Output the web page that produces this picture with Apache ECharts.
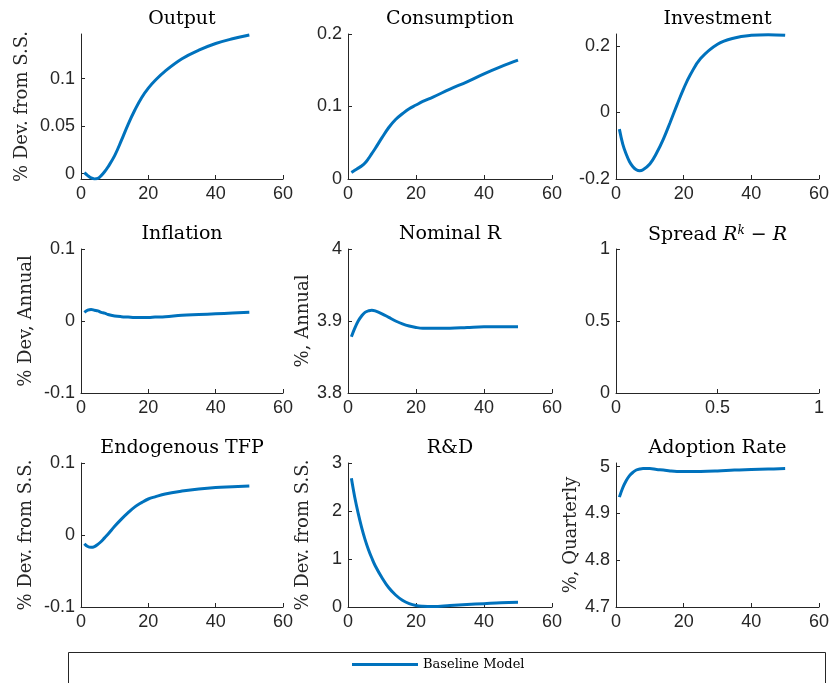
<!DOCTYPE html>
<html lang="en">
  <head>
    <meta charset="UTF-8" />
    <title>IRF panels</title>
    <style>
      html, body { margin: 0; padding: 0; background: #fff; }
      #main { width: 832px; height: 683px; }
    </style>
  </head>
  <body>
    <div id="main"></div>

    <script src="https://cdn.jsdelivr.net/npm/echarts@6/dist/echarts.min.js"></script>
    <script>
      // quarters after the shock
      const periods = [1, 2, 3, 4, 5, 6, 7, 8, 10, 12, 14, 16, 18, 20, 22, 25, 30, 35, 40, 45, 50]

      const output = [0.001, -0.002, -0.0045, -0.0055, -0.005, -0.002, 0.002, 0.007, 0.019, 0.035, 0.052, 0.067, 0.080, 0.090, 0.098, 0.108, 0.121, 0.130, 0.137, 0.142, 0.146]
      const consumption = [0.009, 0.012, 0.015, 0.018, 0.022, 0.028, 0.035, 0.042, 0.057, 0.071, 0.082, 0.090, 0.097, 0.102, 0.107, 0.113, 0.124, 0.134, 0.145, 0.155, 0.164]
      const investment = [-0.05, -0.095, -0.125, -0.148, -0.163, -0.172, -0.175, -0.172, -0.155, -0.122, -0.080, -0.030, 0.022, 0.072, 0.114, 0.162, 0.205, 0.224, 0.232, 0.234, 0.232]
      const inflation = [0.012, 0.015, 0.016, 0.015, 0.014, 0.012, 0.011, 0.009, 0.007, 0.006, 0.0055, 0.005, 0.005, 0.005, 0.0055, 0.006, 0.008, 0.009, 0.010, 0.011, 0.012]
      const nominalR = [3.878, 3.890, 3.900, 3.907, 3.912, 3.914, 3.915, 3.914, 3.910, 3.905, 3.900, 3.896, 3.893, 3.891, 3.890, 3.890, 3.890, 3.891, 3.892, 3.892, 3.892]
      const tfp = [-0.012, -0.016, -0.017, -0.016, -0.013, -0.009, -0.004, 0.001, 0.012, 0.022, 0.031, 0.039, 0.045, 0.050, 0.053, 0.057, 0.061, 0.064, 0.066, 0.067, 0.068]
      const rnd = [2.68, 2.28, 1.95, 1.66, 1.41, 1.20, 1.02, 0.86, 0.61, 0.40, 0.25, 0.14, 0.07, 0.03, 0.015, 0.01, 0.03, 0.05, 0.07, 0.09, 0.10]
      const adoption = [4.935, 4.955, 4.970, 4.981, 4.988, 4.993, 4.995, 4.996, 4.996, 4.994, 4.993, 4.991, 4.990, 4.990, 4.990, 4.990, 4.991, 4.993, 4.994, 4.995, 4.996]

      const xTicks = [0, 20, 40, 60]
      const spreadTicks = [0, 0.5, 1]

      // grid boxes (px)
      const colLeft = [81, 348, 616]
      const colWidth = [202, 204, 203]
      const rowTop = [34, 249, 463]
      const rowHeight = [145, 144, 144]

      const panels = [
        { title: 'Output', data: output, yName: '% Dev. from S.S.', min: -0.0056, max: 0.147, ticks: [0, 0.05, 0.1], gap: 50 },
        { title: 'Consumption', data: consumption, yName: '', min: 0, max: 0.2, ticks: [0, 0.1, 0.2] },
        { title: 'Investment', data: investment, yName: '', min: -0.2, max: 0.236, ticks: [-0.2, 0, 0.2] },
        { title: 'Inflation', data: inflation, yName: '% Dev, Annual', min: -0.1, max: 0.1, ticks: [-0.1, 0, 0.1], gap: 46 },
        { title: 'Nominal R', data: nominalR, yName: '%, Annual', min: 3.8, max: 4, ticks: [3.8, 3.9, 4], gap: 36 },
        { title: '{n|Spread }{i|R}{s|k}{n| − }{i|R}', data: null, yName: '', min: 0, max: 1, ticks: spreadTicks },
        { title: 'Endogenous TFP', data: tfp, yName: '% Dev. from S.S.', min: -0.1, max: 0.1, ticks: [-0.1, 0, 0.1], gap: 46 },
        { title: 'R&D', data: rnd, yName: '% Dev. from S.S.', min: 0, max: 3, ticks: [0, 1, 2, 3], gap: 36 },
        { title: 'Adoption Rate', data: adoption, yName: '%, Quarterly', min: 4.7, max: 5.008, ticks: [4.7, 4.8, 4.9, 5], gap: 36 }
      ]

      const axisColor = '#262626'
      const serif = 'DejaVu Serif'
      const sans = 'Liberation Sans'

      let grid = [], xAxis = [], yAxis = [], series = [], title = []

      panels.forEach((p, i) => {
        let r = Math.floor(i / 3), c = i % 3
        grid.push({ left: colLeft[c], top: rowTop[r], width: colWidth[c], height: rowHeight[r] })
        title.push({
          text: p.title,
          left: colLeft[c] + colWidth[c] / 2,
          top: rowTop[r] - 24,
          padding: 0,
          textAlign: 'center',
          textStyle: {
            fontFamily: serif, fontSize: 19, fontWeight: 'normal', color: '#000',
            rich: {
              n: { fontFamily: serif, fontSize: 19, color: '#000' },
              i: { fontFamily: serif, fontStyle: 'italic', fontSize: 19, color: '#000' },
              s: { fontFamily: serif, fontStyle: 'italic', fontSize: 12, color: '#000', verticalAlign: 'top', padding: [0, 0, 9, 0] }
            }
          }
        })
        let xt = i === 5 ? spreadTicks : xTicks
        xAxis.push({
          type: 'value',
          gridIndex: i,
          min: xt[0],
          max: xt[xt.length - 1],
          axisLine: { show: true, onZero: false, lineStyle: { color: axisColor, width: 1 } },
          axisTick: { show: true, inside: true, length: 4, customValues: xt, lineStyle: { color: axisColor } },
          axisLabel: { customValues: xt, margin: 6, fontFamily: sans, fontSize: 18, color: axisColor },
          splitLine: { show: false }
        })
        yAxis.push({
          type: 'value',
          gridIndex: i,
          min: p.min,
          max: p.max,
          name: p.yName,
          nameLocation: 'middle',
          nameRotate: 90,
          nameGap: p.gap || 40,
          nameTextStyle: { fontFamily: serif, fontSize: 18, color: axisColor },
          axisLine: { show: true, onZero: false, lineStyle: { color: axisColor, width: 1 } },
          axisTick: { show: true, inside: true, length: 4, customValues: p.ticks, lineStyle: { color: axisColor } },
          axisLabel: { customValues: p.ticks, margin: 6, fontFamily: sans, fontSize: 18, color: axisColor },
          splitLine: { show: false }
        })
        if (p.data) {
          series.push({
            name: 'Baseline Model',
            type: 'line',
            xAxisIndex: i,
            yAxisIndex: i,
            data: periods.map((t, k) => [t, p.data[k]]),
            smooth: 0.4,
            showSymbol: false,
            lineStyle: { color: '#0072BD', width: 3 },
            itemStyle: { color: '#0072BD' }
          })
        }
      })

      let option = {
        animation: false,
        backgroundColor: '#fff',
        title: title,
        grid: grid,
        xAxis: xAxis,
        yAxis: yAxis,
        series: series,
        legend: {
          data: ['Baseline Model'],
          left: 352,
          top: 658,
          padding: 0,
          icon: 'rect',
          itemWidth: 66,
          itemHeight: 3,
          itemGap: 6,
          textStyle: { fontFamily: serif, fontSize: 13, color: '#000' }
        },
        graphic: [
          {
            type: 'rect',
            shape: { x: 68.5, y: 652.5, width: 757, height: 40 },
            style: { fill: 'none', stroke: '#262626', lineWidth: 1 },
            z: -1
          }
        ]
      }

      let myChart = echarts.init(document.getElementById('main'))
      myChart.setOption(option)
    </script>
  </body>
</html>
